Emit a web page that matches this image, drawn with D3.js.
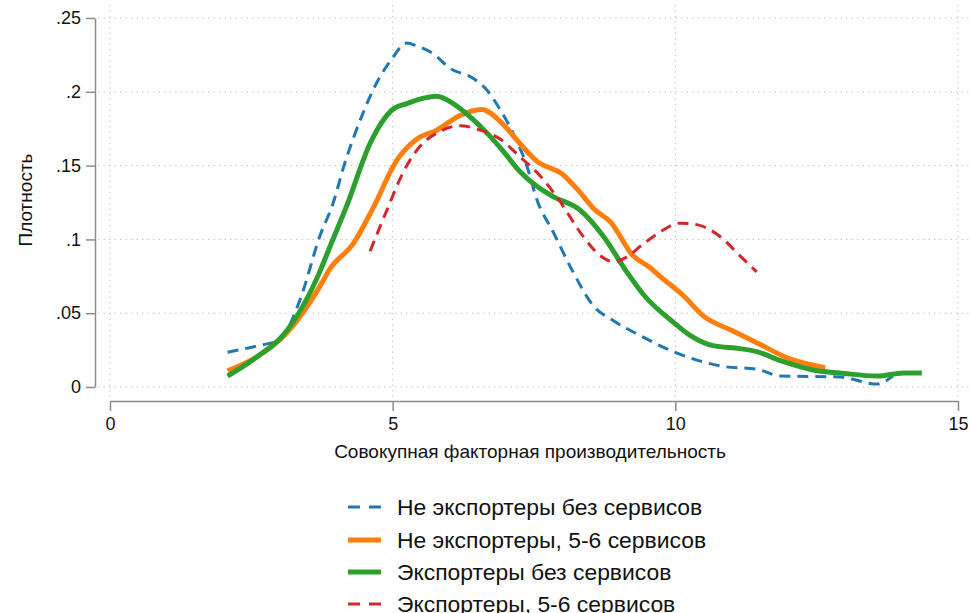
<!DOCTYPE html>
<html>
<head>
<meta charset="utf-8">
<script src="https://cdn.jsdelivr.net/npm/d3@7"></script>
<style>
  body { margin: 0; background: #fff; }
  svg text { font-family: "Liberation Sans", Arial, Helvetica, sans-serif; fill: #111; }
</style>
</head>
<body>
<div id="chart"></div>
<script>
// >-----------------< Data >-------------------<
const seriesNames = [
  "Не экспортеры без сервисов",
  "Не экспортеры, 5-6 сервисов",
  "Экспортеры без сервисов",
  "Экспортеры, 5-6 сервисов"
];

// [tfp, density]
const nonExpNoServ = [
  [2.08, .0236], [2.62, .028], [3.0, .032], [3.36, .059], [3.71, .102], [3.95, .125],
  [4.14, .150], [4.48, .186], [4.65, .201], [4.98, .222], [5.25, .233], [5.43, .231],
  [5.71, .226], [6.01, .216], [6.43, .209], [6.67, .201], [6.9, .188], [7.13, .172],
  [7.38, .149], [7.55, .127], [7.84, .105], [8.19, .078], [8.55, .055], [8.9, .045],
  [9.37, .035], [9.96, .024], [10.84, .014], [11.45, .012], [11.85, .0075],
  [12.91, .0068], [13.57, .002], [13.85, .0075]
];
const nonExpServ = [
  [2.08, .011], [2.62, .021], [3.06, .034], [3.71, .068], [3.89, .080], [4.3, .097],
  [4.65, .121], [5.08, .154], [5.43, .168], [5.78, .174], [6.19, .184], [6.58, .188],
  [6.9, .180], [7.25, .165], [7.55, .153], [8.01, .144], [8.31, .132], [8.58, .120],
  [8.85, .112], [9.25, .089], [9.55, .081], [9.73, .075], [10.14, .062], [10.5, .048],
  [11.02, .038], [11.44, .030], [12.03, .019], [12.65, .013]
];
const expNoServ = [
  [2.08, .0074], [2.62, .021], [3.06, .035], [3.71, .078], [3.89, .095], [4.19, .123],
  [4.6, .165], [5.0, .188], [5.25, .192], [5.48, .195], [5.78, .197], [6.07, .192],
  [6.37, .183], [6.67, .172], [6.95, .160], [7.25, .146], [7.55, .136], [7.84, .129],
  [8.31, .120], [8.73, .102], [9.14, .078], [9.45, .062], [9.96, .044], [10.26, .035],
  [10.67, .028], [11.14, .026], [11.44, .024], [11.85, .018], [12.51, .011],
  [12.91, .0095], [13.57, .0074], [14.03, .0095], [14.36, .0095]
];
const expServ = [
  [4.6, .092], [4.9, .120], [5.18, .145], [5.48, .163], [5.78, .172], [6.19, .177],
  [6.55, .174], [6.9, .168], [7.25, .156], [7.61, .143], [7.9, .129], [8.37, .102],
  [8.67, .089], [8.9, .085], [9.14, .088], [9.37, .095], [9.73, .105], [10.08, .111],
  [10.38, .110], [10.79, .102], [11.14, .089], [11.44, .078]
];

const xTicks = [0, 5, 10, 15];
const yTicks = [0, .05, .1, .15, .2, .25];
const yTickLabels = ["0", ".05", ".1", ".15", ".2", ".25"];

// >-----------------< Config >-------------------<
const width = 970, height = 613;
const colors = ["#1f77b4", "#ff7f0e", "#2ca02c", "#d62728"];
const widths = [3, 5, 5, 3];
const dashes = ["11,7", null, null, "11,7"];

const svg = d3.select("#chart").append("svg")
  .attr("width", width)
  .attr("height", height);

const x = d3.scaleLinear().domain([0, 15]).range([110, 958]);
const y = d3.scaleLinear().domain([0, .25]).range([387, 18]);

// Grid
svg.append("g").selectAll("line")
  .data(yTicks)
  .enter().append("line")
  .attr("x1", 98).attr("x2", width)
  .attr("y1", d => y(d)).attr("y2", d => y(d))
  .attr("stroke", "#c4c4c4")
  .attr("stroke-dasharray", "1.5,4");

svg.append("g").selectAll("line")
  .data(xTicks)
  .enter().append("line")
  .attr("x1", d => x(d)).attr("x2", d => x(d))
  .attr("y1", 5).attr("y2", 398)
  .attr("stroke", "#c4c4c4")
  .attr("stroke-dasharray", "1.5,4");

// Axes
const yAxis = svg.append("g")
  .attr("transform", "translate(95,0)")
  .call(d3.axisLeft(y).tickValues(yTicks).tickFormat((d, i) => yTickLabels[i]).tickSize(9).tickSizeOuter(0).tickPadding(5));

const xAxis = svg.append("g")
  .attr("transform", "translate(0,401)")
  .call(d3.axisBottom(x).tickValues(xTicks).tickSize(10).tickSizeOuter(0).tickPadding(6));

[yAxis, xAxis].forEach(ax => {
  ax.select(".domain").attr("stroke", "#8c8c8c").attr("stroke-width", 1.5);
  ax.selectAll(".tick line").attr("stroke", "#8c8c8c").attr("stroke-width", 1.5);
  ax.selectAll("text").attr("font-size", 18).attr("fill", "#111")
    .attr("font-family", "Liberation Sans, Arial, sans-serif");
});

// Axis titles
svg.append("text")
  .attr("transform", "translate(32,200) rotate(-90)")
  .attr("text-anchor", "middle")
  .attr("font-size", 19)
  .text("Плотность");

svg.append("text")
  .attr("x", 530).attr("y", 458)
  .attr("text-anchor", "middle")
  .attr("font-size", 19)
  .text("Совокупная факторная производительность");

// Curves
const line = d3.line()
  .x(d => x(d[0]))
  .y(d => y(d[1]))
  .curve(d3.curveMonotoneX);

const allSeries = [nonExpNoServ, nonExpServ, expNoServ, expServ];

allSeries.forEach((s, i) => {
  svg.append("path")
    .datum(s)
    .attr("d", line)
    .attr("fill", "none")
    .attr("stroke", colors[i])
    .attr("stroke-width", widths[i])
    .attr("stroke-dasharray", dashes[i])
    .attr("stroke-linejoin", "round");
});

// Legend
const legendY = [507, 540, 572, 604];
const legend = svg.append("g");
seriesNames.forEach((name, i) => {
  legend.append("line")
    .attr("x1", 348).attr("x2", 381)
    .attr("y1", legendY[i]).attr("y2", legendY[i])
    .attr("stroke", colors[i])
    .attr("stroke-width", widths[i])
    .attr("stroke-dasharray", dashes[i] ? "12,9" : null);
  legend.append("text")
    .attr("x", 397).attr("y", legendY[i] + 8)
    .attr("font-size", 22.9)
    .text(name);
});
</script>
</body>
</html>
